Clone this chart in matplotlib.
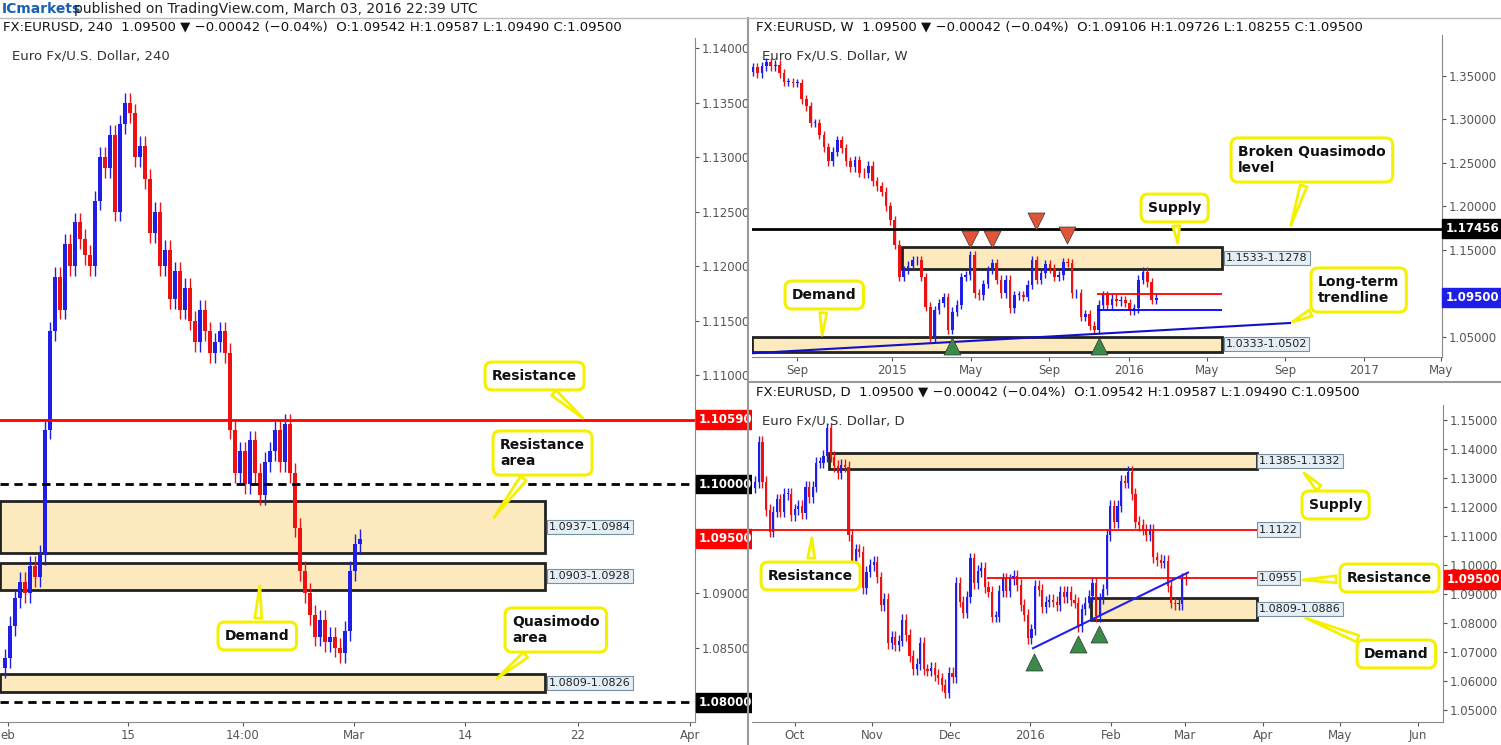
import matplotlib
matplotlib.use("Agg")
import matplotlib.pyplot as plt
import numpy as np

W, H = 1501, 745
UP, DN = "#1e1ee6", "#ee1111"
ZONE = "#fce9bd"

c240 = [1.0840,1.0870,1.0895,1.0910,1.0900,1.0925,1.0915,1.0935,1.1050,1.1140,1.1190,1.1160,1.1220,1.1200,
        1.1240,1.1225,1.1210,1.1200,1.1260,1.1300,1.1290,1.1320,1.1250,1.1330,1.1350,1.1340,1.1300,1.1310,
        1.1280,1.1230,1.1250,1.1200,1.1215,1.1170,1.1195,1.1160,1.1180,1.1150,1.1130,1.1160,1.1140,1.1120,
        1.1130,1.1140,1.1120,1.1050,1.1010,1.1030,1.1000,1.1040,1.1010,1.0990,1.1020,1.1030,1.1050,1.1020,
        1.1055,1.1010,1.0960,1.0920,1.0900,1.0880,1.0860,1.0875,1.0855,1.0860,1.0850,1.0845,1.0865,1.0920,
        1.0945,1.0950]
cW = [1.360,1.353,1.361,1.366,1.361,1.363,1.353,1.343,1.343,1.342,1.342,1.323,1.315,1.296,1.296,1.282,
      1.268,1.252,1.263,1.276,1.267,1.252,1.245,1.253,1.239,1.238,1.247,1.229,1.223,1.217,1.200,1.184,
      1.156,1.119,1.127,1.132,1.138,1.138,1.119,1.085,1.049,1.081,1.089,1.096,1.058,1.079,1.087,1.119,
      1.121,1.144,1.100,1.098,1.111,1.127,1.135,1.116,1.100,1.116,1.083,1.098,1.098,1.096,1.110,1.138,
      1.116,1.123,1.134,1.129,1.119,1.121,1.136,1.135,1.100,1.100,1.073,1.076,1.063,1.058,1.087,1.098,
      1.087,1.094,1.091,1.092,1.089,1.080,1.083,1.116,1.125,1.113,1.093,1.095]
cD = [1.1287,1.1425,1.1287,1.1190,1.1115,1.1184,1.1226,1.1184,1.1245,1.1245,1.1172,1.1192,1.1203,1.1180,
      1.1270,1.1233,1.1270,1.1353,1.1353,1.1376,1.1471,1.1374,1.1341,1.1318,1.1345,1.1339,1.1103,1.1011,
      1.1054,1.1046,1.0920,1.0977,1.1000,1.1011,1.0957,1.0862,1.0882,1.0732,1.0751,1.0724,1.0739,1.0810,
      1.0759,1.0686,1.0640,1.0659,1.0730,1.0640,1.0636,1.0644,1.0621,1.0609,1.0586,1.0560,1.0629,1.0613,
      1.0937,1.0874,1.0836,1.0889,1.1023,1.0937,1.0980,1.0989,1.0925,1.0908,1.0822,1.0822,1.0911,1.0954,
      1.0911,1.0950,1.0962,1.0931,1.0862,1.0828,1.0747,1.0778,1.0928,1.0914,1.0856,1.0874,1.0879,1.0874,
      1.0862,1.0908,1.0889,1.0908,1.0879,1.0870,1.0790,1.0847,1.0870,1.0893,1.0939,1.0824,1.0885,1.0916,
      1.1103,1.1203,1.1149,1.1203,1.1290,1.1284,1.1322,1.1245,1.1149,1.1138,1.1123,1.1103,1.1123,1.1026,
      1.1017,1.1008,1.1015,1.0928,1.0870,1.0866,1.0866,1.0954,1.0950]

fig = plt.figure(figsize=(W/100, H/100), dpi=100)
fig.patch.set_facecolor("white")

def mkax(x0, x1, ytop, ybot):
    ax = fig.add_axes([x0/W, 1-ybot/H, (x1-x0)/W, (ybot-ytop)/H])
    ax.yaxis.tick_right()
    ax.tick_params(labelsize=8.5, colors="#555555", length=3, pad=2)
    for s in ["top", "left"]:
        ax.spines[s].set_visible(False)
    for s in ["right", "bottom"]:
        ax.spines[s].set_color("#888888")
    return ax

def candles(ax, closes, wick, width, xs=None):
    if xs is None:
        xs = list(range(len(closes)))
    opens = [closes[0] - wick] + closes[:-1]
    for x, o, c in zip(xs, opens, closes):
        col = UP if c >= o else DN
        lo, hi = min(o, c), max(o, c)
        ax.vlines(x, lo - wick, hi + wick, color="#777777" if wick < 0.004 and ax is AX3 else col, lw=1, zorder=3)
        ax.bar(x, max(hi - lo, wick*0.2), bottom=lo, width=width, color=col, zorder=4)

def zone(ax, x0, x1, lo, hi, label=None, lx=None):
    ax.add_patch(plt.Rectangle((x0, lo), x1-x0, hi-lo, fc=ZONE, ec="#222222", lw=2, zorder=2))
    if label:
        ax.text(lx if lx is not None else x1+0.8, (lo+hi)/2, label, fontsize=8, va="center", ha="left", color="#222222", zorder=6,
                bbox=dict(boxstyle="square,pad=0.2", fc="#e4eef5", ec="#7890a0", lw=0.8))

def tag(ax, y, text, fc):
    ax.text(1.005, y, text, transform=ax.get_yaxis_transform(), fontsize=8.5, color="white",
            fontweight="bold", va="center", ha="left", zorder=10,
            bbox=dict(boxstyle="square,pad=0.25", fc=fc, ec=fc), clip_on=False)

def callout(text, bx, by, tx, ty):
    fig.add_artist(matplotlib.text.Annotation(
        text, xy=(tx, H-ty), xycoords="figure pixels", xytext=(bx, H-by), textcoords="figure pixels",
        fontsize=10, fontweight="bold", ha="left", va="center", color="#111111",
        bbox=dict(boxstyle="round,pad=0.5", fc="white", ec="#f5f000", lw=2.2),
        arrowprops=dict(arrowstyle="wedge,tail_width=0.5", fc="white", ec="#f5f000", lw=2)))

def arrow(ax, x, y, down, col):
    ax.scatter([x], [y], marker="v" if down else "^", s=150, c=col, edgecolors="#333333", linewidths=0.5, zorder=7)

AX3 = None
# ---- Left 4h panel
ax1 = mkax(0, 695, 38, 722)
ax1.set_xlim(-1, 138); ax1.set_ylim(1.07817, 1.14092)
candles(ax1, c240, 0.0009, 0.7)
zone(ax1, -1, 108, 1.0937, 1.0984, "1.0937-1.0984")
zone(ax1, -1, 108, 1.0903, 1.0928, "1.0903-1.0928")
zone(ax1, -1, 108, 1.0809, 1.0826, "1.0809-1.0826")
ax1.axhline(1.1059, color="red", lw=2, zorder=5)
ax1.axhline(1.1000, color="black", lw=2, ls=(0, (3, 2)), zorder=5)
ax1.axhline(1.0800, color="black", lw=2, ls=(0, (3, 2)), zorder=5)
yt1 = [v for v in np.arange(1.08, 1.1401, 0.005) if abs(v-1.105) > 1e-4 and abs(v-1.10) > 1e-4 and abs(v-1.095) > 1e-4 and abs(v-1.08) > 1e-4]
ax1.set_yticks(yt1)
ax1.set_yticklabels([f"{v:.5f}" for v in yt1])
ax1.set_xticks([0.6, 24.6, 47.6, 69.8, 92, 114.6, 137])
ax1.set_xticklabels(["eb", "15", "14:00", "Mar", "14", "22", "Apr"])
tag(ax1, 1.1059, "1.10590", "#ff0000"); tag(ax1, 1.1000, "1.10000", "black"); tag(ax1, 1.0950, "1.09500", "#ff0000")
tag(ax1, 1.0800, "1.08000", "black")

# ---- Weekly panel
ax2 = mkax(752, 1442, 35, 357)
ax2.set_xlim(-0.23, 155.5); ax2.set_ylim(1.0270, 1.3971)
candles(ax2, cW, 0.005, 0.6)
zone(ax2, 33.6, 105.9, 1.1278, 1.1533, "1.1533-1.1278")
zone(ax2, -0.23, 105.9, 1.0333, 1.0502, "1.0333-1.0502")
ax2.axhline(1.17456, color="black", lw=2, zorder=5)
ax2.hlines(1.0994, 77.7, 105.9, color="red", lw=1.3, zorder=5)
ax2.hlines(1.0810, 77.7, 105.9, color="blue", lw=1.3, zorder=5)
ax2.plot([-0.23, 121.2], [1.0313, 1.0661], color="#1010cc", lw=1.5, zorder=5)
yt2 = [v for v in np.arange(1.05, 1.351, 0.05) if abs(v-1.10) > 1e-4]
ax2.set_yticks(yt2)
ax2.set_yticklabels([f"{v:.5f}" for v in yt2])
ax2.set_xticks([9.9, 31.4, 49.2, 66.8, 84.9, 102.5, 120.1, 137.9, 155.3])
ax2.set_xticklabels(["Sep", "2015", "May", "Sep", "2016", "May", "Sep", "2017", "May"])
tag(ax2, 1.17456, "1.17456", "black"); tag(ax2, 1.0950, "1.09500", "#1e1ee6")
for x, y in [(49, 1.163), (53.9, 1.163), (63.9, 1.183), (70.8, 1.167)]:
    arrow(ax2, x, y, True, "#e0553a")
for x in [45, 78]:
    arrow(ax2, x, 1.040, False, "#3a8a4a")

# ---- Daily panel (x in screen-pixel units)
ax3 = mkax(752, 1443, 405, 722)
ax3.set_xlim(752, 1443); ax3.set_ylim(1.04586, 1.15517)
step = (1185.7 - 755.3) / (len(cD) - 1)
xsD = [755.3 + i*step for i in range(len(cD))]
candles(ax3, cD, 0.002, 0.6*step, xsD)
zone(ax3, 829, 1257, 1.1332, 1.1385, "1.1385-1.1332", 1259)
zone(ax3, 1091, 1257, 1.0809, 1.0886, "1.0809-1.0886", 1259)
ax3.hlines(1.1122, 752, 1257, color="red", lw=1.3, zorder=5)
ax3.hlines(1.0955, 987, 1257, color="red", lw=1.3, zorder=5)
for yv, s in [(1.1122, "1.1122"), (1.0955, "1.0955")]:
    ax3.text(1259, yv, s, fontsize=8, va="center", color="#222222",
             bbox=dict(boxstyle="square,pad=0.2", fc="#e4eef5", ec="#7890a0", lw=0.8))
ax3.plot([1033, 1188], [1.0713, 1.0974], color="#2020ee", lw=1.5, zorder=5)
yt3 = list(np.arange(1.05, 1.1501, 0.01))
ax3.set_yticks(yt3)
ax3.set_yticklabels([f"{v:.5f}" for v in yt3])
ax3.set_xticks([795, 872, 950, 1030, 1111, 1185, 1263, 1340, 1418])
ax3.set_xticklabels(["Oct", "Nov", "Dec", "2016", "Feb", "Mar", "Apr", "May", "Jun"])
tag(ax3, 1.0950, "1.09500", "#ff0000")
for x, y in [(1034, 1.0665), (1078, 1.0728), (1099, 1.0763)]:
    arrow(ax3, x, y, False, "#3a8a4a")

# ---- Texts
fig.text(2/W, 1-9/H, "ICmarkets", color="#1a5fb4", fontsize=10, va="center", fontweight="bold")
fig.text(74/W, 1-9/H, "published on TradingView.com, March 03, 2016 22:39 UTC", color="#222222", fontsize=10, va="center")
fig.text(3/W, 1-27/H, "FX:EURUSD, 240  1.09500 \u25bc \u22120.00042 (\u22120.04%)  O:1.09542 H:1.09587 L:1.09490 C:1.09500",
         fontsize=9.5, va="center", color="#111111")
fig.text(756/W, 1-27/H, "FX:EURUSD, W  1.09500 \u25bc \u22120.00042 (\u22120.04%)  O:1.09106 H:1.09726 L:1.08255 C:1.09500",
         fontsize=9.5, va="center", color="#111111")
fig.text(756/W, 1-392/H, "FX:EURUSD, D  1.09500 \u25bc \u22120.00042 (\u22120.04%)  O:1.09542 H:1.09587 L:1.09490 C:1.09500",
         fontsize=9.5, va="center", color="#111111")
fig.text(12/W, 1-56/H, "Euro Fx/U.S. Dollar, 240", fontsize=9.5, color="#333333", va="center")
fig.text(762/W, 1-56/H, "Euro Fx/U.S. Dollar, W", fontsize=9.5, color="#333333", va="center")
fig.text(762/W, 1-421/H, "Euro Fx/U.S. Dollar, D", fontsize=9.5, color="#333333", va="center")
fig.add_artist(plt.Line2D([748/W, 748/W], [0, 1-18/H], color="#999999", lw=1.5))
fig.add_artist(plt.Line2D([748/W, 1], [1-382/H, 1-382/H], color="#999999", lw=1.5))
fig.add_artist(plt.Line2D([0, 1], [1-18/H, 1-18/H], color="#bbbbbb", lw=1))

callout("Resistance", 492, 376, 585, 420)
callout("Resistance\narea", 500, 453, 492, 520)
callout("Demand", 225, 636, 260, 583)
callout("Quasimodo\narea", 512, 630, 495, 680)
callout("Broken Quasimodo\nlevel", 1238, 160, 1290, 228)
callout("Supply", 1148, 208, 1178, 246)
callout("Demand", 792, 295, 822, 338)
callout("Long-term\ntrendline", 1318, 290, 1290, 323)
callout("Supply", 1309, 505, 1302, 471)
callout("Resistance", 1347, 578, 1300, 580)
callout("Resistance", 768, 576, 812, 535)
callout("Demand", 1364, 654, 1303, 617)

fig.savefig("out.png", dpi=100)
